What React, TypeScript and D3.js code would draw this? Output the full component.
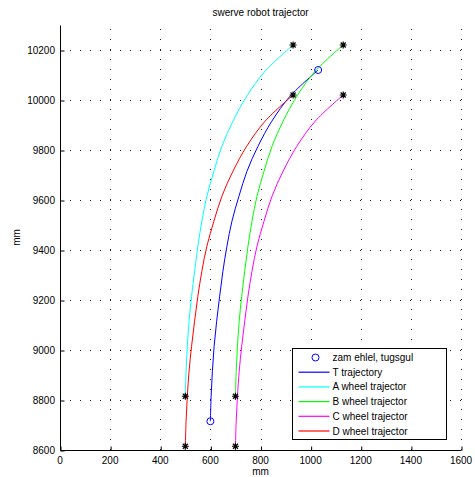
import { useEffect, useRef } from "react";
import * as d3 from "d3";

type Pt = [number, number];

// trajectories (x mm, y mm)
const tTrajectory: Pt[] = [
  [600, 8715], [603, 8815], [608, 8915], [615, 9015], [625, 9115], [637, 9215], [650, 9315],
  [666, 9415], [686, 9515], [714, 9615], [746, 9715], [790, 9815], [845, 9915], [918, 10015], [1030, 10120],
];
const aWheel: Pt[] = [
  [500, 8815], [503, 8915], [508, 9015], [515, 9115], [525, 9215], [537, 9315], [550, 9415],
  [566, 9515], [586, 9615], [614, 9715], [646, 9815], [690, 9915], [745, 10015], [818, 10115], [930, 10220],
];
const bWheel: Pt[] = [
  [700, 8815], [703, 8915], [708, 9015], [715, 9115], [725, 9215], [737, 9315], [750, 9415],
  [766, 9515], [786, 9615], [814, 9715], [846, 9815], [890, 9915], [945, 10015], [1018, 10115], [1130, 10220],
];
const cWheel: Pt[] = [
  [700, 8615], [703, 8715], [708, 8815], [715, 8915], [725, 9015], [737, 9115], [750, 9215],
  [766, 9315], [786, 9415], [814, 9515], [846, 9615], [890, 9715], [945, 9815], [1018, 9915], [1130, 10020],
];
const dWheel: Pt[] = [
  [500, 8615], [503, 8715], [508, 8815], [515, 8915], [525, 9015], [537, 9115], [550, 9215],
  [566, 9315], [586, 9415], [614, 9515], [646, 9615], [690, 9715], [745, 9815], [818, 9915], [930, 10020],
];

const series = [
  { label: "T trajectory", color: "#0000ff", data: tTrajectory },
  { label: "A wheel trajector", color: "#00ffff", data: aWheel },
  { label: "B wheel trajector", color: "#00ff00", data: bWheel },
  { label: "C wheel trajector", color: "#ff00ff", data: cWheel },
  { label: "D wheel trajector", color: "#ff0000", data: dWheel },
];

const xTicks = [0, 200, 400, 600, 800, 1000, 1200, 1400, 1600];
const yTicks = [8600, 8800, 9000, 9200, 9400, 9600, 9800, 10000, 10200];
const markerLabel = "zam ehlel, tugsgul";

const W = 475;
const H = 477;
const FONT = "'Liberation Sans', Arial, sans-serif";

const App = () => {
  const svgRef = useRef<SVGSVGElement | null>(null);

  useEffect(() => {
    const svg = d3.select(svgRef.current);
    svg.selectAll("*").remove();

    const x = d3.scaleLinear().domain([0, 1600]).range([60, 461]);
    const y = d3.scaleLinear().domain([8600, 10300]).range([450, 25]);
    const [x0, x1] = x.range();
    const [yb, yt] = y.range();

    svg.append("rect").attr("width", W).attr("height", H).attr("fill", "#fff");

    // dotted grid
    const grid = svg.append("g").attr("stroke", "#222").attr("stroke-width", 1).attr("stroke-dasharray", "1,9");
    grid.selectAll(".vg")
      .data(xTicks.slice(1))
      .enter()
      .append("line")
      .attr("x1", (d) => Math.round(x(d)) + 0.5)
      .attr("x2", (d) => Math.round(x(d)) + 0.5)
      .attr("y1", yb)
      .attr("y2", yt);
    grid.selectAll(".hg")
      .data(yTicks.slice(1))
      .enter()
      .append("line")
      .attr("y1", (d) => Math.round(y(d)) + 0.5)
      .attr("y2", (d) => Math.round(y(d)) + 0.5)
      .attr("x1", x0)
      .attr("x2", x1);

    // axes (inward ticks, no box)
    const xAxis = d3.axisTop(x).tickValues(xTicks).tickSize(4).tickFormat(() => "");
    svg.append("g")
      .attr("transform", `translate(0.5,${yb + 0.5})`)
      .call(xAxis)
      .call((ax) => ax.select(".domain").attr("d", `M${x0},0H${x1}`));
    const yAxis = d3.axisRight(y).tickValues(yTicks).tickSize(4).tickFormat(() => "");
    svg.append("g")
      .attr("transform", `translate(${x0 + 0.5},0.5)`)
      .call(yAxis)
      .call((ax) => ax.select(".domain").attr("d", `M0,${yb}V${yt}`));
    svg.selectAll(".domain, .tick line").attr("stroke", "#000");

    svg.append("g")
      .selectAll("text")
      .data(xTicks)
      .enter()
      .append("text")
      .attr("x", (d) => x(d))
      .attr("y", yb + 14)
      .attr("text-anchor", "middle")
      .text((d) => d);
    svg.append("g")
      .selectAll("text")
      .data(yTicks)
      .enter()
      .append("text")
      .attr("x", x0 - 5)
      .attr("y", (d) => y(d) + 3.5)
      .attr("text-anchor", "end")
      .text((d) => d);

    svg.append("text").attr("x", (x0 + x1) / 2).attr("y", 16).attr("text-anchor", "middle").text("swerve robot trajector");
    svg.append("text").attr("x", (x0 + x1) / 2).attr("y", 475).attr("text-anchor", "middle").text("mm");
    svg.append("text")
      .attr("transform", `translate(20,${(yb + yt) / 2}) rotate(-90)`)
      .attr("text-anchor", "middle")
      .text("mm");

    // lines
    const line = d3.line<Pt>().x((d) => x(d[0])).y((d) => y(d[1])).curve(d3.curveCatmullRom);
    series.forEach((s) => {
      svg.append("path").datum(s.data).attr("fill", "none").attr("stroke", s.color).attr("stroke-width", 1).attr("d", line);
    });

    // start/end markers
    const tEnds = [tTrajectory[0], tTrajectory[tTrajectory.length - 1]];
    svg.append("g")
      .selectAll("circle")
      .data(tEnds)
      .enter()
      .append("circle")
      .attr("cx", (d) => x(d[0]))
      .attr("cy", (d) => y(d[1]))
      .attr("r", 3.5)
      .attr("fill", "none")
      .attr("stroke", "#0000ff");

    const star = "M-3.5,0H3.5M0,-3.5V3.5M-2.5,-2.5L2.5,2.5M-2.5,2.5L2.5,-2.5";
    const wheelEnds = series.slice(1).flatMap((s) => [s.data[0], s.data[s.data.length - 1]]);
    svg.append("g")
      .selectAll("path")
      .data(wheelEnds)
      .enter()
      .append("path")
      .attr("transform", (d) => `translate(${x(d[0])},${y(d[1])})`)
      .attr("d", star)
      .attr("stroke", "#000")
      .attr("stroke-width", 1.2);

    // legend
    const lg = svg.append("g").attr("transform", "translate(292.5,348.5)");
    lg.append("rect").attr("width", 154).attr("height", 91).attr("fill", "#fff").attr("stroke", "#000");
    const rowY = (i: number) => 9 + i * 14.7;
    lg.append("circle").attr("cx", 23).attr("cy", rowY(0)).attr("r", 3.5).attr("fill", "none").attr("stroke", "#0000ff");
    lg.append("text").attr("x", 40).attr("y", rowY(0) + 3.5).text(markerLabel);
    series.forEach((s, i) => {
      lg.append("line")
        .attr("x1", 6)
        .attr("x2", 37)
        .attr("y1", rowY(i + 1))
        .attr("y2", rowY(i + 1))
        .attr("stroke", s.color)
        .attr("stroke-width", 1.2);
      lg.append("text").attr("x", 40).attr("y", rowY(i + 1) + 3.5).text(s.label);
    });

    svg.selectAll("text").attr("font-family", FONT).attr("font-size", 10).attr("fill", "#000");
  }, []);

  return (
    <svg
      ref={svgRef}
      width={W}
      height={H}
      style={{ display: "block", position: "absolute", left: 0, top: 0 }}
    />
  );
};

export default App;
